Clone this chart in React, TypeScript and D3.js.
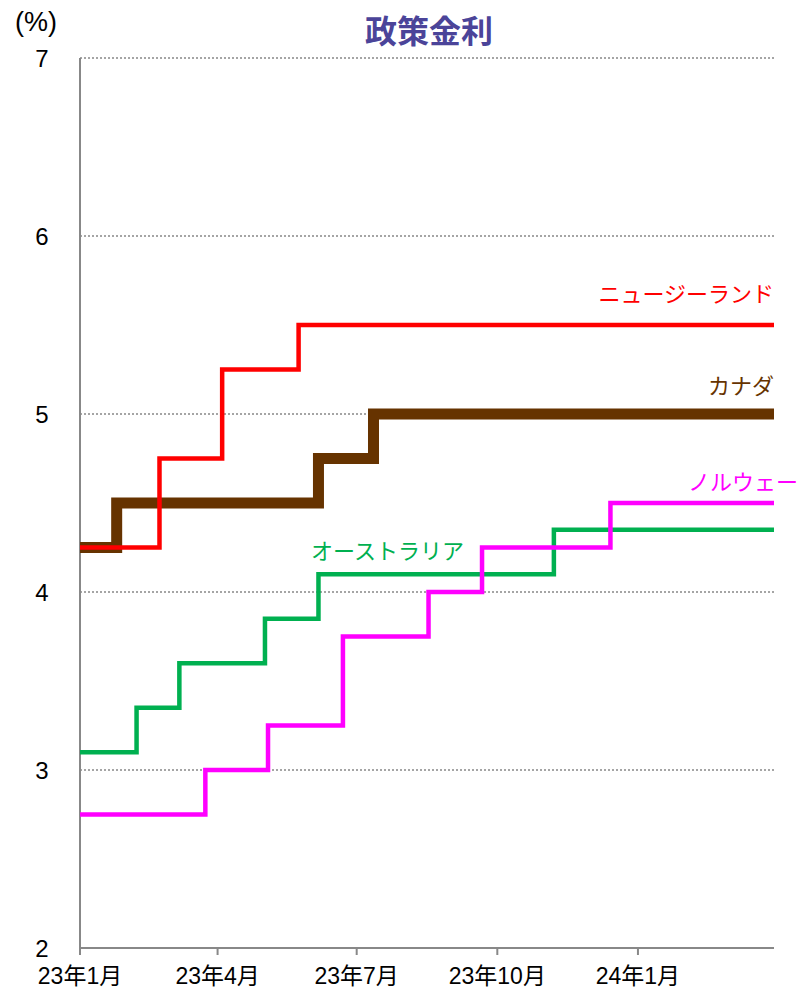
import React from "react";
import * as d3 from "d3";

const W = 800;
const H = 990;

const END_DATE = "2024-03-30";

const nzDates = ["2023-01-01", "2023-02-22", "2023-04-04", "2023-05-24"];
const nzRates = [4.25, 4.75, 5.25, 5.5];

const caDates = ["2023-01-01", "2023-01-25", "2023-06-06", "2023-07-12"];
const caRates = [4.25, 4.5, 4.75, 5.0];

const auDates = ["2023-01-01", "2023-02-07", "2023-03-07", "2023-05-02", "2023-06-06", "2023-11-07"];
const auRates = [3.1, 3.35, 3.6, 3.85, 4.1, 4.35];

const noDates = ["2023-01-01", "2023-03-24", "2023-05-04", "2023-06-22", "2023-08-17", "2023-09-21", "2023-12-14"];
const noRates = [2.75, 3.0, 3.25, 3.75, 4.0, 4.25, 4.5];

const yTicks = [2, 3, 4, 5, 6, 7];
const xTickDates = ["2023-01-01", "2023-04-01", "2023-07-01", "2023-10-01", "2024-01-01"];
const xTickLabels = ["23年1月", "23年4月", "23年7月", "23年10月", "24年1月"];

const parse = d3.utcParse("%Y-%m-%d");

type Pt = { d: Date; v: number };
function build(dates: string[], rates: number[]): Pt[] {
  const pts = dates.map((s, i) => ({ d: parse(s) as Date, v: rates[i] }));
  pts.push({ d: parse(END_DATE) as Date, v: rates[rates.length - 1] });
  return pts;
}

const series = [
  { name: "カナダ", color: "#663300", width: 11, data: build(caDates, caRates) },
  { name: "ニュージーランド", color: "#FF0000", width: 4.5, data: build(nzDates, nzRates) },
  { name: "オーストラリア", color: "#00B050", width: 4.5, data: build(auDates, auRates) },
  { name: "ノルウェー", color: "#FF00FF", width: 4.5, data: build(noDates, noRates) },
];

const labels = [
  { text: "ニュージーランド", color: "#FF0000", x: 774, y: 302, anchor: "end" },
  { text: "カナダ", color: "#663300", x: 774, y: 394, anchor: "end" },
  { text: "ノルウェー", color: "#FF00FF", x: 798, y: 490, anchor: "end" },
  { text: "オーストラリア", color: "#00B050", x: 311, y: 559, anchor: "start" },
];

export default function App() {
  const left = 80;
  const right = 774;
  const top = 58;
  const bottom = 948;
  const x = d3.scaleUtc().domain([parse("2023-01-01") as Date, parse(END_DATE) as Date]).range([left, right]);
  const y = d3.scaleLinear().domain([2, 7]).range([bottom, top]);
  const line = d3
    .line<Pt>()
    .x((p) => x(p.d))
    .y((p) => y(p.v))
    .curve(d3.curveStepAfter);

  const font = "'Liberation Sans', Arial, 'Noto Sans CJK JP', sans-serif";
  const jfont = "'Noto Sans CJK JP', sans-serif";

  return (
    <svg width={W} height={H} style={{ position: "absolute", left: 0, top: 0, background: "#fff" }}>
      <text x={429} y={43} textAnchor="middle" fontFamily={jfont} fontWeight="bold" fontSize={32} fill="#4B4499">
        政策金利
      </text>
      <text x={36} y={31} textAnchor="middle" fontFamily={font} fontSize={27} fill="#000">
        (%)
      </text>
      {yTicks.map((t) => (
        <g key={t}>
          {t > 2 && (
            <line x1={left} x2={right + 1} y1={y(t)} y2={y(t)} stroke="#888" strokeWidth={1.5} strokeDasharray="2,2" />
          )}
          <text x={42} y={y(t) + 9} textAnchor="middle" fontFamily={font} fontSize={24} fill="#000">
            {t}
          </text>
        </g>
      ))}
      <line x1={left} x2={left} y1={top} y2={bottom} stroke="#888" strokeWidth={2} />
      <line x1={left} x2={right} y1={bottom} y2={bottom} stroke="#888" strokeWidth={2} />
      {xTickDates.map((s, i) => {
        const xx = x(parse(s) as Date);
        return (
          <g key={s}>
            <line x1={xx} x2={xx} y1={bottom} y2={bottom + 7} stroke="#888" strokeWidth={2} />
            <text x={xx} y={984} textAnchor="middle" fontFamily={font} fontSize={23} fill="#000">
              {xTickLabels[i]}
            </text>
          </g>
        );
      })}
      {series.map((s) => (
        <path key={s.name} d={line(s.data) || ""} fill="none" stroke={s.color} strokeWidth={s.width} strokeLinejoin="miter" />
      ))}
      {labels.map((l) => (
        <text key={l.text} x={l.x} y={l.y} textAnchor={l.anchor as any} fontFamily={jfont} fontSize={22} fill={l.color}>
          {l.text}
        </text>
      ))}
    </svg>
  );
}
